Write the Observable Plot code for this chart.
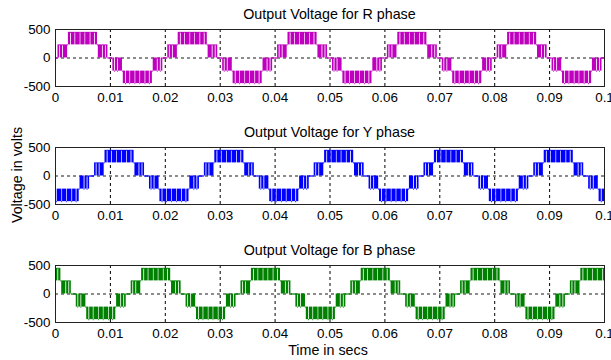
<!DOCTYPE html>
<html><head><meta charset="utf-8">
<script src="https://cdn.jsdelivr.net/npm/d3@7"></script>
<script src="https://cdn.jsdelivr.net/npm/@observablehq/plot@0.6"></script>
<style>
body{margin:0;background:#fff;}
#chart{position:relative;width:611px;height:360px;overflow:hidden;background:#fff;}
.panel{position:absolute;left:0;}
#labels{position:absolute;left:0;top:0;}
</style></head><body><div id="chart"><svg id="labels" width="611" height="360"></svg></div>
<script>
// ---- data ----
const phaseNames = ["R", "Y", "B"];
const phaseTitles = ["Output Voltage for R phase", "Output Voltage for Y phase", "Output Voltage for B phase"];
const phaseDelayMs = [0, 6.667, -6.667];      // Y lags R by 120°, B leads R by 120°
const periodMs = [20];                          // 50 Hz fundamental
const xTicks = [0, 0.01, 0.02, 0.03, 0.04, 0.05, 0.06, 0.07, 0.08, 0.09, 0.1];
const xTickLabels = ["0", "0.01", "0.02", "0.03", "0.04", "0.05", "0.06", "0.07", "0.08", "0.09", "0.1"];
const yTicks = [-500, 0, 500];
const yTickLabels = ["-500", "0", "500"];
// one positive half-cycle of the phase voltage (ms from zero crossing, volts):
// segments where the output either sits at one level (low == high)
// or switches rapidly between two adjacent levels (low < high)
const segStartMs = [0, 0.45, 0.75, 0.9, 1.3, 1.45, 2.2, 2.35, 2.75, 2.9, 3.55, 3.68, 4.5, 4.62, 5.38, 5.5, 6.32, 6.45, 7.1, 7.25, 7.65, 7.8, 8.55, 8.7, 9.1, 9.25, 9.55];
const segEndMs   = [0.45, 0.75, 0.9, 1.3, 1.45, 2.2, 2.35, 2.75, 2.9, 3.55, 3.68, 4.5, 4.62, 5.38, 5.5, 6.32, 6.45, 7.1, 7.25, 7.65, 7.8, 8.55, 8.7, 9.1, 9.25, 9.55, 10];
const segLowV    = [0, 0, 230, 0, 230, 0, 230, 230, 450, 230, 450, 230, 450, 230, 450, 230, 450, 230, 450, 230, 230, 0, 230, 0, 230, 0, 0];
const segHighV   = [0, 230, 230, 230, 230, 230, 230, 450, 450, 450, 450, 450, 450, 450, 450, 450, 450, 450, 450, 450, 230, 230, 230, 230, 230, 230, 0];

// ---- presentation ----
const colors = ["#bf00bf", "#0000ff", "#008000"];
const frameTops = [29, 147, 265];
const innerH = 57;
const font = '"Liberation Sans", Arial, sans-serif';

function phaseSegments(delayMs) {
  const P = periodMs[0];
  const out = [];
  for (let k = -1; k <= 6; k++) for (let h = 0; h < 2; h++) {
    const sign = h === 0 ? 1 : -1;
    const off = k * P + h * P / 2 + delayMs;
    segStartMs.forEach((s, i) => {
      const a = (s + off) / 1000, b = (segEndMs[i] + off) / 1000;
      if (b <= 0 || a >= 0.1) return;
      out.push({t0: Math.max(a, 0), t1: Math.min(b, 0.1), lo: sign * segLowV[i], hi: sign * segHighV[i]});
    });
  }
  return out;
}

const chart = document.getElementById("chart");
phaseNames.forEach((name, p) => {
  const segs = phaseSegments(phaseDelayMs[p]);
  const blocks = segs.filter(d => d.lo !== d.hi);
  const steady = segs.filter(d => d.lo === d.hi);
  const mt = 5, mb = 28;
  const plot = Plot.plot({
    width: 611, height: mt + innerH + mb,
    marginLeft: 55, marginRight: 7, marginTop: mt, marginBottom: mb,
    style: {fontFamily: font, fontSize: "13.4px", color: "#000", background: "transparent", overflow: "visible"},
    x: {domain: [0, 0.1]},
    y: {domain: [-500, 500]},
    marks: [
      Plot.gridX(xTicks.slice(1, -1), {stroke: "#000", strokeOpacity: 1, strokeDasharray: "3,3"}),
      Plot.gridY([0], {stroke: "#000", strokeOpacity: 0.9, strokeDasharray: "3,3"}),
      Plot.rect(blocks, {x1: "t0", x2: "t1", y1: "lo", y2: "hi", fill: colors[p]}),
      Plot.ruleY(steady, {y: "lo", x1: "t0", x2: "t1", stroke: colors[p], strokeWidth: 1.3}),
      Plot.frame({stroke: "#222"}),
      Plot.axisX(xTicks, {tickSize: 0, tickPadding: 6, tickFormat: (d, i) => xTickLabels[i], label: null}),
      Plot.axisY(yTicks, {tickSize: 0, tickPadding: 5, tickFormat: (d, i) => yTickLabels[i], label: null})
    ]
  });
  plot.classList.add("panel");
  plot.style.top = (frameTops[p] - mt) + "px";
  chart.appendChild(plot);
});

const labels = d3.select("#labels").style("font-family", font);
phaseTitles.forEach((t, p) => {
  labels.append("text").attr("x", 329.5).attr("y", frameTops[p] - 9.6)
    .attr("text-anchor", "middle").attr("font-size", "14.3px").text(t);
});
labels.append("text").attr("x", 328).attr("y", 355)
  .attr("text-anchor", "middle").attr("font-size", "14.3px").text("Time in secs");
labels.append("text").attr("transform", "translate(21.5,175) rotate(-90)")
  .attr("text-anchor", "middle").attr("font-size", "14.3px").text("Voltage in volts");
</script></body></html>
